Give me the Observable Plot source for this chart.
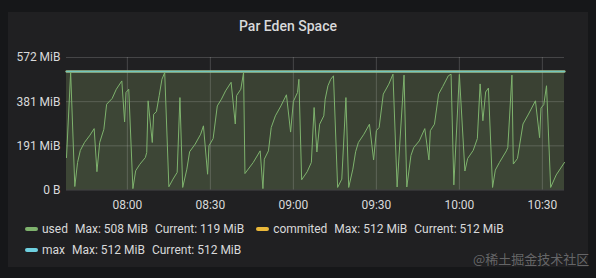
<!DOCTYPE html>
<html><head><meta charset="utf-8">
<script src="https://cdn.jsdelivr.net/npm/d3@7"></script>
<script src="https://cdn.jsdelivr.net/npm/@observablehq/plot@0.6"></script>
<style>
html,body{margin:0;padding:0;background:#161719;width:596px;height:278px;overflow:hidden;font-family:Roboto,"Noto Sans",sans-serif;}
#panel{position:absolute;left:8px;top:12px;width:580px;height:255px;background:#202022;}
#title{position:absolute;left:188px;width:200px;top:17px;text-align:center;color:#d8d9da;font-size:14px;font-weight:500;line-height:18px;}
#chart{position:absolute;left:0;top:0;}
.row{position:absolute;left:25px;display:flex;align-items:center;font-size:12px;line-height:14px;color:#d8d9da;white-space:nowrap;}
.item{display:flex;align-items:center;margin-right:12px;}
.sw{width:13px;height:4px;border-radius:2px;margin-right:4px;}
.item span.v{margin-left:7px;}
#wm{position:absolute;left:473px;top:251px;font-size:13px;line-height:16px;color:rgba(255,255,255,0.33);font-family:"Noto Sans CJK SC",sans-serif;}
</style></head>
<body>
<div id="panel"></div>
<div id="title">Par Eden Space</div>
<div id="chart"></div>
<div id="legend"></div>
<div id="wm">@稀土掘金技术社区</div>
<script>
// ---- data ----
const usedTimes = ["07:38:00","07:39:30","07:41:00","07:42:00","07:43:00","07:44:30","07:46:30","07:48:00","07:49:00","07:50:00",
"07:51:30","07:52:30","07:54:30","07:56:00","07:58:00","07:59:00","07:59:30","08:00:30","08:02:00","08:03:00",
"08:04:30","08:06:30","08:07:00","08:07:30","08:09:00","08:09:30","08:10:30","08:11:30","08:12:30","08:13:30",
"08:15:00","08:16:30","08:18:00","08:19:00","08:20:00","08:21:30","08:22:30","08:24:30","08:26:30","08:27:30",
"08:29:00","08:29:30","08:31:00","08:32:30","08:34:00","08:35:30","08:37:30","08:39:00","08:39:30","08:41:00",
"08:42:00","08:42:30","08:45:30","08:48:00","08:49:00","08:49:30","08:51:00","08:52:00","08:53:30","08:55:30",
"08:57:30","08:59:00","09:00:00","09:01:30","09:02:00","09:03:00","09:05:00","09:06:30","09:07:30","09:08:30",
"09:09:30","09:11:00","09:11:30","09:12:30","09:13:30","09:14:30","09:16:00","09:17:30","09:19:00","09:20:00",
"09:21:30","09:22:30","09:23:30","09:25:30","09:27:30","09:29:00","09:30:00","09:31:00","09:32:30","09:34:30",
"09:36:00","09:37:30","09:40:00","09:41:00","09:42:30","09:43:30","09:45:30","09:47:30","09:49:00","09:49:30",
"09:51:00","09:52:30","09:54:00","09:56:00","09:57:00","09:58:00","10:00:00","10:02:00","10:03:00","10:05:00",
"10:06:30","10:07:30","10:08:30","10:09:30","10:10:30","10:12:00","10:13:00","10:14:30","10:17:00","10:17:30",
"10:19:00","10:19:30","10:21:00","10:23:00","10:25:00","10:27:30","10:29:00","10:29:30","10:30:30","10:31:30",
"10:33:00","10:35:00","10:38:00"];
const usedMiB = [140,508,15,119,171,205,237,265,79,205,
262,370,395,435,471,294,421,435,6,83,
111,140,162,385,205,327,338,407,478,507,
14,47,76,399,11,90,165,198,241,277,
68,191,222,363,392,428,465,285,408,435,
507,71,119,169,6,133,169,270,320,363,
411,250,382,421,478,44,79,119,356,164,
284,320,392,450,478,493,11,47,399,11,
90,165,205,241,284,130,256,270,414,457,
500,13,496,13,149,183,212,265,130,256,
284,414,447,493,500,22,499,82,136,171,
222,458,299,423,440,11,86,119,169,183,
496,112,136,285,328,385,226,354,368,450,
11,65,119];
const limitTimes = ["07:38:00","10:38:00"];
const committedMiB = [512,512];
const maxMiB = [512,512];
const xTickTimes = ["08:00:00","08:30:00","09:00:00","09:30:00","10:00:00","10:30:00"];
const yTickValues = [0,190.67,381.33,572];
const yTickLabels = ["0 B","191 MiB","381 MiB","572 MiB"];
const seriesNames = ["used","commited","max"];
const seriesMax = ["508 MiB","512 MiB","512 MiB"];
const seriesCurrent = ["119 MiB","512 MiB","512 MiB"];
const seriesColors = ["#7eb26d","#eab839","#6ed0e0"];

// ---- build ----
const parse = d3.utcParse("%H:%M:%S");
const used = usedTimes.map((t,i)=>({t:parse(t),v:usedMiB[i]}));
const committed = limitTimes.map((t,i)=>({t:parse(t),v:committedMiB[i]}));
const maxS = limitTimes.map((t,i)=>({t:parse(t),v:maxMiB[i]}));

const chart = Plot.plot({
  width:596, height:215,
  marginLeft:66, marginRight:32, marginTop:57, marginBottom:25.5,
  style:{background:"transparent",color:"#d8d9da",fontSize:"12px",fontFamily:"Roboto, sans-serif"},
  x:{type:"utc",domain:[parse(limitTimes[0]),parse(limitTimes[1])],ticks:xTickTimes.map(parse),tickFormat:d3.utcFormat("%H:%M"),tickSize:0,tickPadding:10,label:null},
  y:{domain:[0,572],ticks:yTickValues,tickFormat:(d,i)=>yTickLabels[yTickValues.indexOf(d)],tickSize:0,tickPadding:6,label:null},
  marks:[
    Plot.areaY(maxS,{x:"t",y:"v",fill:"#3a4133"}),
    Plot.areaY(used,{x:"t",y:"v",fill:seriesColors[0],fillOpacity:0.05}),
    Plot.gridX(xTickTimes.map(parse),{stroke:"#ffffff",strokeOpacity:0.17,strokeWidth:1}),
    Plot.gridY(yTickValues,{stroke:"#ffffff",strokeOpacity:0.17,strokeWidth:1}),
    Plot.line(committed,{x:"t",y:"v",stroke:seriesColors[1],strokeWidth:2}),
    Plot.line(maxS,{x:"t",y:"v",stroke:"#72c6be",strokeWidth:2}),
    Plot.line(used,{x:"t",y:"v",stroke:seriesColors[0],strokeWidth:1,curve:"linear"})
  ]
});
document.getElementById("chart").appendChild(chart);

// legend
const legend = document.getElementById("legend");
const rows = [[0,1],[2]];
const tops = [222,243];
rows.forEach((r,ri)=>{
  const row = document.createElement("div");
  row.className="row"; row.style.top=tops[ri]+"px";
  r.forEach(i=>{
    const it=document.createElement("div"); it.className="item";
    it.innerHTML=`<div class="sw" style="background:${seriesColors[i]}"></div><span>${seriesNames[i]}</span><span class="v">Max: ${seriesMax[i]}</span><span class="v">Current: ${seriesCurrent[i]}</span>`;
    row.appendChild(it);
  });
  legend.appendChild(row);
});
</script>
</body></html>
